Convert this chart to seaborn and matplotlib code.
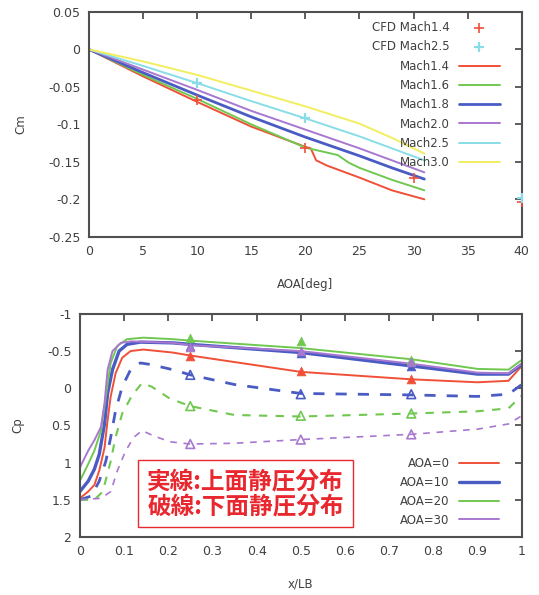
import numpy as np
import pandas as pd
import seaborn as sns
import matplotlib
matplotlib.use('Agg')
import matplotlib.pyplot as plt
from matplotlib.ticker import FuncFormatter, MultipleLocator

# ---- top chart: Cm vs AOA ----
aoa_m14 = [0, 5, 10, 15, 20, 20.5, 21, 22, 25, 28, 31]
cm_m14 = [0, -0.036, -0.070, -0.103, -0.130, -0.132, -0.148, -0.155, -0.171, -0.188, -0.200]
aoa_m16 = [0, 5, 10, 15, 20, 23, 24, 25, 28, 31]
cm_m16 = [0, -0.034, -0.066, -0.100, -0.131, -0.141, -0.151, -0.158, -0.174, -0.188]
aoa_std = [0, 5, 10, 15, 20, 25, 28, 31]
cm_m18 = [0, -0.031, -0.061, -0.090, -0.117, -0.142, -0.158, -0.173]
cm_m20 = [0, -0.027, -0.054, -0.082, -0.107, -0.132, -0.148, -0.164]
cm_m25 = [0, -0.022, -0.045, -0.069, -0.092, -0.116, -0.132, -0.148]
cm_m30 = [0, -0.016, -0.034, -0.055, -0.076, -0.099, -0.118, -0.139]

cfd_aoa_m14 = [10, 20, 30, 40]
cfd_cm_m14 = [-0.068, -0.131, -0.172, -0.203]
cfd_aoa_m25 = [10, 20, 40]
cfd_cm_m25 = [-0.045, -0.092, -0.198]

# ---- bottom chart: Cp vs x/LB ----
x_up0 = [0, 0.019, 0.033, 0.044, 0.056, 0.063, 0.070, 0.081, 0.096, 0.115, 0.144, 0.21,
         0.25, 0.5, 0.75, 0.9, 0.97, 1.0]
cp_up0 = [1.48, 1.39, 1.30, 1.11, 0.80, 0.43, 0.11, -0.20, -0.41, -0.50, -0.52, -0.48,
          -0.44, -0.22, -0.12, -0.08, -0.10, -0.30]
x_up10 = [0, 0.019, 0.033, 0.044, 0.056, 0.063, 0.074, 0.089, 0.107, 0.137, 0.21,
          0.25, 0.5, 0.75, 0.9, 0.97, 1.0]
cp_up10 = [1.39, 1.25, 1.09, 0.89, 0.48, 0.07, -0.25, -0.50, -0.59, -0.62, -0.61,
           -0.59, -0.48, -0.30, -0.19, -0.19, -0.32]
x_up20 = [0, 0.019, 0.033, 0.048, 0.059, 0.070, 0.085, 0.107, 0.144, 0.21,
          0.25, 0.5, 0.75, 0.9, 0.97, 1.0]
cp_up20 = [1.25, 1.02, 0.84, 0.57, 0.11, -0.34, -0.57, -0.66, -0.68, -0.66,
           -0.64, -0.54, -0.39, -0.26, -0.25, -0.38]
x_up30 = [0, 0.019, 0.033, 0.048, 0.056, 0.063, 0.074, 0.093, 0.115, 0.21,
          0.25, 0.5, 0.75, 0.9, 0.97, 1.0]
cp_up30 = [1.07, 0.84, 0.70, 0.52, 0.20, -0.25, -0.50, -0.61, -0.63, -0.61,
           -0.58, -0.50, -0.33, -0.21, -0.20, -0.33]

x_lo10 = [0, 0.026, 0.044, 0.059, 0.070, 0.081, 0.096, 0.115, 0.137, 0.159, 0.21,
          0.25, 0.35, 0.5, 0.75, 0.9, 0.97, 1.0]
cp_lo10 = [1.50, 1.45, 1.25, 0.98, 0.66, 0.30, -0.02, -0.25, -0.34, -0.32, -0.25,
           -0.18, -0.05, 0.07, 0.09, 0.11, 0.08, -0.05]
x_lo20 = [0, 0.033, 0.052, 0.070, 0.081, 0.096, 0.119, 0.141, 0.163, 0.204,
          0.25, 0.35, 0.5, 0.75, 0.9, 0.97, 1.0]
cp_lo20 = [1.50, 1.50, 1.39, 0.98, 0.66, 0.34, 0.09, -0.07, -0.02, 0.14,
           0.24, 0.36, 0.38, 0.34, 0.31, 0.27, 0.10]
x_lo30 = [0, 0.048, 0.070, 0.085, 0.104, 0.122, 0.141, 0.167, 0.204,
          0.25, 0.35, 0.5, 0.75, 0.9, 0.97, 1.0]
cp_lo30 = [1.50, 1.48, 1.39, 1.11, 0.84, 0.66, 0.57, 0.64, 0.72,
           0.75, 0.74, 0.69, 0.62, 0.55, 0.48, 0.37]

x_exp = [0.25, 0.5, 0.75]
exp_up0 = [-0.44, -0.23, -0.13]
exp_up10 = [-0.57, -0.48, -0.30]
exp_up20 = [-0.68, -0.64, -0.38]
exp_up30 = [-0.55, -0.50, -0.35]
exp_lo10 = [-0.18, 0.08, 0.08]
exp_lo20 = [0.24, 0.37, 0.34]
exp_lo30 = [0.75, 0.69, 0.62]

RED = '#f05038'
GREEN = '#70c850'
BLUE = '#4a5cc4'
PURPLE = '#a878d0'
CYAN = '#88dde6'
YELLOW = '#f2ee60'
AX = '#505050'
TXT = '#404040'

sns.set_style('white')
plt.rcParams['font.family'] = ['DejaVu Sans']

fig = plt.figure(figsize=(5.39, 5.95), dpi=100)
ax1 = fig.add_axes([0.165, 0.602, 0.803, 0.378])
ax2 = fig.add_axes([0.148, 0.0975, 0.820, 0.375])

fmt = FuncFormatter(lambda v, p: '%g' % round(v, 3))


def right_align(leg):
    # gnuplot-like key: labels flush right against the samples
    for col in leg._legend_handle_box.get_children():
        col.align = 'right'
    for t in leg.get_texts():
        t.set_color(TXT)


# ---- top ----
sns.scatterplot(x=cfd_aoa_m14, y=cfd_cm_m14, marker='+', s=45, color=RED,
                linewidth=1.2, label='CFD Mach1.4', ax=ax1, zorder=5)
sns.scatterplot(x=cfd_aoa_m25, y=cfd_cm_m25, marker='+', s=45, color=CYAN,
                linewidth=1.6, label='CFD Mach2.5', ax=ax1, zorder=5)
series = [(aoa_m14, cm_m14, RED, 'Mach1.4', 1.4),
          (aoa_m16, cm_m16, GREEN, 'Mach1.6', 1.4),
          (aoa_std, cm_m18, BLUE, 'Mach1.8', 2.0),
          (aoa_std, cm_m20, PURPLE, 'Mach2.0', 1.4),
          (aoa_std, cm_m25, CYAN, 'Mach2.5', 1.4),
          (aoa_std, cm_m30, YELLOW, 'Mach3.0', 1.4)]
for xs, ys, c, lab, lw in series:
    sns.lineplot(x=xs, y=ys, color=c, lw=lw, label=lab, sort=False, ax=ax1)

ax1.set_xlim(0, 40)
ax1.set_ylim(-0.25, 0.05)
ax1.xaxis.set_major_locator(MultipleLocator(5))
ax1.yaxis.set_major_locator(MultipleLocator(0.05))
ax1.xaxis.set_major_formatter(fmt)
ax1.yaxis.set_major_formatter(fmt)
ax1.set_xlabel('AOA[deg]', fontsize=8.5, color=TXT, labelpad=14)
ax1.set_ylabel('Cm', fontsize=8.5, color=TXT, labelpad=15)
leg1 = ax1.legend(loc='upper right', markerfirst=False, frameon=False, fontsize=8.5,
                  handlelength=3.4, labelspacing=0.53, borderaxespad=0.2,
                  bbox_to_anchor=(0.965, 0.99))
right_align(leg1)

# ---- bottom ----
upper = [(x_up0, cp_up0, RED, 'AOA=0', 1.4),
         (x_up10, cp_up10, BLUE, 'AOA=10', 2.4),
         (x_up20, cp_up20, GREEN, 'AOA=20', 1.4),
         (x_up30, cp_up30, PURPLE, 'AOA=30', 1.4)]
for xs, ys, c, lab, lw in upper:
    sns.lineplot(x=xs, y=ys, color=c, lw=lw, label=lab, sort=False, ax=ax2)
lower = [(x_lo10, cp_lo10, BLUE, 2.0), (x_lo20, cp_lo20, GREEN, 1.5),
         (x_lo30, cp_lo30, PURPLE, 1.2)]
for xs, ys, c, lw in lower:
    sns.lineplot(x=xs, y=ys, color=c, lw=lw, ax=ax2, sort=False, linestyle=(0, (4, 4)))

for ys, c in [(exp_up0, RED), (exp_up10, BLUE), (exp_up20, GREEN), (exp_up30, PURPLE)]:
    sns.scatterplot(x=x_exp, y=ys, marker='^', s=40, color=c, edgecolor=c, ax=ax2, zorder=5)
for ys, c in [(exp_lo10, BLUE), (exp_lo20, GREEN), (exp_lo30, PURPLE)]:
    sns.scatterplot(x=x_exp, y=ys, marker='^', s=40, facecolor='none', edgecolor=c,
                    linewidth=1.2, ax=ax2, zorder=5)

ax2.set_xlim(0, 1)
ax2.set_ylim(2, -1)
ax2.xaxis.set_major_locator(MultipleLocator(0.1))
ax2.yaxis.set_major_locator(MultipleLocator(0.5))
ax2.xaxis.set_major_formatter(fmt)
ax2.yaxis.set_major_formatter(fmt)
ax2.set_xlabel('x/LB', fontsize=8.5, color=TXT, labelpad=14)
ax2.set_ylabel('Cp', fontsize=8.5, color=TXT, labelpad=16)
h, l = ax2.get_legend_handles_labels()
leg2 = ax2.legend(h[:4], l[:4], loc='lower right', markerfirst=False, frameon=False,
                  fontsize=8.5, handlelength=3.4, labelspacing=0.5,
                  bbox_to_anchor=(0.965, 0.015), borderaxespad=0.2)
right_align(leg2)

ax2.text(0.375, 0.195, '実線:上面静圧分布\n破線:下面静圧分布', transform=ax2.transAxes,
         ha='center', va='center', fontsize=17, fontweight='bold', color='#e8282e',
         linespacing=1.05, family=['Noto Sans CJK JP', 'DejaVu Sans'],
         bbox=dict(boxstyle='square,pad=0.38', fc='white', ec='#e8282e', lw=1.0),
         zorder=6)

for ax in (ax1, ax2):
    for s in ax.spines.values():
        s.set_color(AX)
        s.set_linewidth(1.5)
    ax.tick_params(direction='in', length=5, width=1.3, color=AX, top=True, right=True,
                   labelsize=9, labelcolor=TXT, pad=6)

fig.savefig('out.png', dpi=100)
